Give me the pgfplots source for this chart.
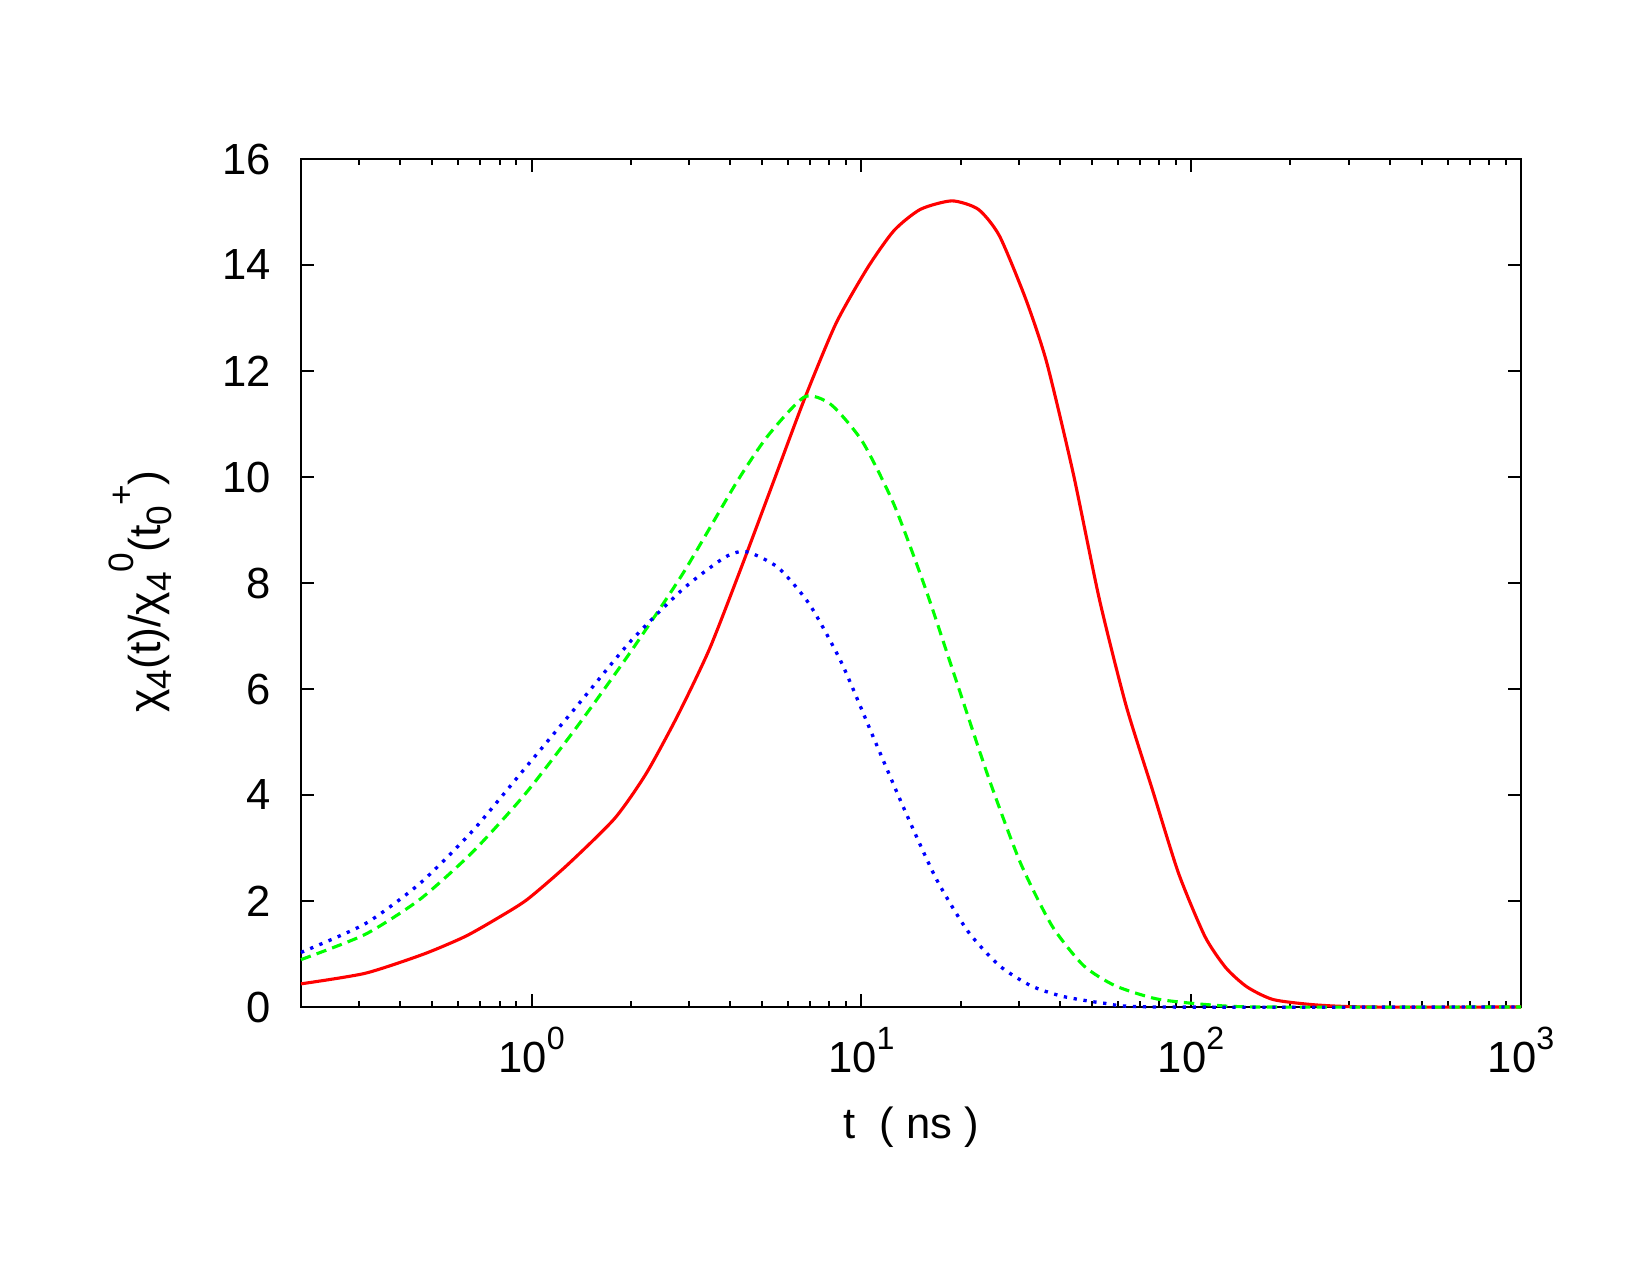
\documentclass[border=0pt]{standalone}
\usepackage{fontspec}
\setmainfont{Liberation Sans}
\usepackage{pgfplots}
\pgfplotsset{compat=1.18}
\newcommand\sups[1]{\raisebox{0.53em}{\fontsize{15.5}{15.5}\selectfont #1}}
\newcommand\subs[1]{\raisebox{-0.25em}{\fontsize{15.5}{15.5}\selectfont #1}}
\newcommand\lsups[1]{\raisebox{0.6em}{\fontsize{17}{17}\selectfont #1}}
\newcommand\lsubs[1]{\raisebox{-0.25em}{\fontsize{17}{17}\selectfont #1}}
\begin{document}
\begin{tikzpicture}
\useasboundingbox (-2.00667in,-1.78667in) rectangle (8.99333in,6.71333in);
\begin{axis}[
 at={(0,0)}, anchor=south west,
 scale only axis, width=8.1333in, height=5.6533in,
 xmode=log, xmin=0.2, xmax=1000, ymin=0, ymax=16,
 ytick={0,2,4,6,8,10,12,14,16},
 xtick={1,10,100,1000},
 xticklabels={10\sups{0},10\sups{1},10\sups{2},10\sups{3}},
 minor xtick={0.3,0.4,0.5,0.6,0.7,0.8,0.9,2,3,4,5,6,7,8,9,20,30,40,50,60,70,80,90,200,300,400,500,600,700,800,900},
 major tick length=6.2pt, minor tick length=3pt,
 tick style={line width=1pt, black},
 axis line style={line width=1pt},
 tick align=inside,
 /pgf/number format/assume math mode=true,
 tick label style={font=\fontsize{21}{25}\selectfont},
 xticklabel style={anchor=base, yshift=-31.7pt},
 yticklabel style={anchor=east, inner sep=0pt, xshift=-14.2pt},
 xlabel={t\ \ ( ns )},
 ylabel={χ\lsubs{4}(t)/χ\lsubs{4}\lsups{0}(t\lsubs{0}\lsups{+})},
 every axis x label/.style={at={(axis description cs:0.5,-0.1545)}, anchor=base, inner sep=0pt, font=\fontsize{21}{25}\selectfont},
 every axis y label/.style={at={(axis description cs:-0.1057,0.49)}, anchor=south, rotate=90, inner sep=0pt, font=\fontsize{21.5}{25}\selectfont},
 clip=false,
]
\addplot[color=red, line width=1.5pt, smooth, tension=0.4] coordinates {
(0.2,0.437) (0.313,0.636) (0.469,0.994) (0.629,1.33) (0.796,1.69) (0.971,2.03)
(1.284,2.68) (1.788,3.56) (2.229,4.41) (2.780,5.51) (3.467,6.76) (4.323,8.29)
(5.391,9.88) (6.72,11.47) (8.38,12.90) (10.45,13.95) (12.56,14.65) (15.10,15.05)
(18.83,15.21) (22.63,15.05) (26.22,14.55) (31.50,13.36) (36.48,12.16) (43.85,10.08)
(52.7,7.69) (63.4,5.70) (76.2,4.11) (91.6,2.52) (110.1,1.33) (127.4,0.74)
(147.6,0.38) (177.4,0.14) (238.2,0.04) (344,0.0) (1000,0.0)
};
\addplot[color=green, line width=1.5pt, dash pattern=on 5pt off 3pt, smooth, tension=0.4] coordinates {
(0.2,0.894) (0.313,1.37) (0.4585,2.03) (0.662,2.92) (0.957,4.02) (1.382,5.31)
(1.997,6.70) (2.884,8.19) (4.167,9.88) (5.195,10.77) (6.72,11.51) (8.08,11.37)
(10.07,10.67) (12.56,9.48) (15.66,7.89) (19.53,6.10) (24.36,4.31) (30.36,2.72)
(37.86,1.53) (47.2,0.78) (58.9,0.40) (79.0,0.15) (114.2,0.04) (164.9,0.0) (1000,0.0)
};
\addplot[color=blue, line width=1.6pt, dash pattern=on 1.6pt off 3.2pt, smooth, tension=0.4] coordinates {
(0.2,1.03) (0.313,1.57) (0.4585,2.33) (0.662,3.32) (0.957,4.51) (1.382,5.70)
(1.997,6.90) (2.884,7.89) (3.87,8.49) (4.486,8.59) (5.594,8.29) (6.975,7.59)
(8.70,6.50) (10.84,5.11) (13.52,3.72) (16.86,2.42) (21.03,1.43) (26.21,0.78)
(32.68,0.40) (40.8,0.20) (54.7,0.07) (79.0,0.0) (1000,0.0)
};
\end{axis}
\end{tikzpicture}
\end{document}
